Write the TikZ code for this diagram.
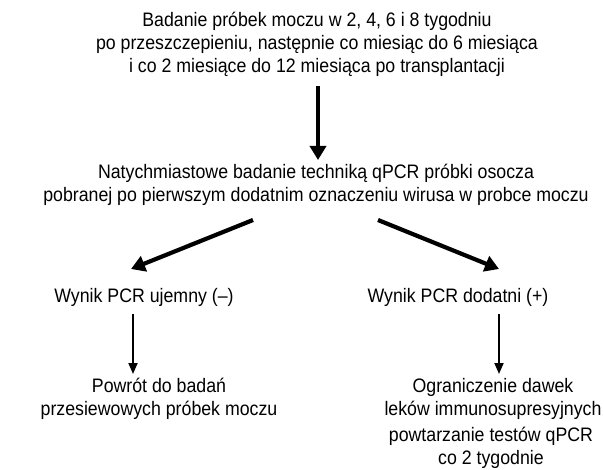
\documentclass[tikz,border=0pt]{standalone}
\usepackage{fontspec}
\setmainfont{Liberation Sans}[FakeStretch=0.91]
\usetikzlibrary{arrows.meta}
\begin{document}
\begin{tikzpicture}[x=1pt,y=-1pt,
  txt/.style={align=center, font=\fontsize{19.5}{23}\selectfont, inner sep=0pt},
  bigarrow/.style={line width=4.2pt, -{Triangle[length=14pt,width=16pt]}},
  smallarrow/.style={line width=1.8pt, -{Triangle[length=11pt,width=9pt]}}]
\useasboundingbox[fill=white] (0,0) rectangle (604,470);
\node[txt] (top) at (317,44) {Badanie próbek moczu w 2, 4, 6 i 8 tygodniu\\po przeszczepieniu, następnie co miesiąc do 6 miesiąca\\i co 2 miesiące do 12 miesiąca po transplantacji};
\node[txt] (mid) at (316,185) {Natychmiastowe badanie techniką qPCR próbki osocza\\pobranej po pierwszym dodatnim oznaczeniu wirusa w probce moczu};
\node[txt] (wl) at (144,297) {Wynik PCR ujemny (–)};
\node[txt] (wr) at (458,297) {Wynik PCR dodatni (+)};
\node[txt] (pl) at (159,399) {Powrót do badań\\przesiewowych próbek moczu};
\node[txt] (pr) at (493,399) {Ograniczenie dawek\\leków immunosupresyjnych};
\node[txt] (pr2) at (491,448) {powtarzanie testów qPCR\\co 2 tygodnie};
\coordinate (a1s) at (318,86);
\coordinate (a1e) at (318,160);
\coordinate (dls) at (253,220);
\coordinate (dle) at (131,269);
\coordinate (drs) at (378,220);
\coordinate (dre) at (499,269);
\coordinate (tls) at (133,314);
\coordinate (tle) at (133,374);
\coordinate (trs) at (499,314);
\coordinate (tre) at (499,374);
\draw[bigarrow] (a1s) -- (a1e);
\draw[bigarrow] (dls) -- (dle);
\draw[bigarrow] (drs) -- (dre);
\draw[smallarrow] (tls) -- (tle);
\draw[smallarrow] (trs) -- (tre);
\end{tikzpicture}
\end{document}
